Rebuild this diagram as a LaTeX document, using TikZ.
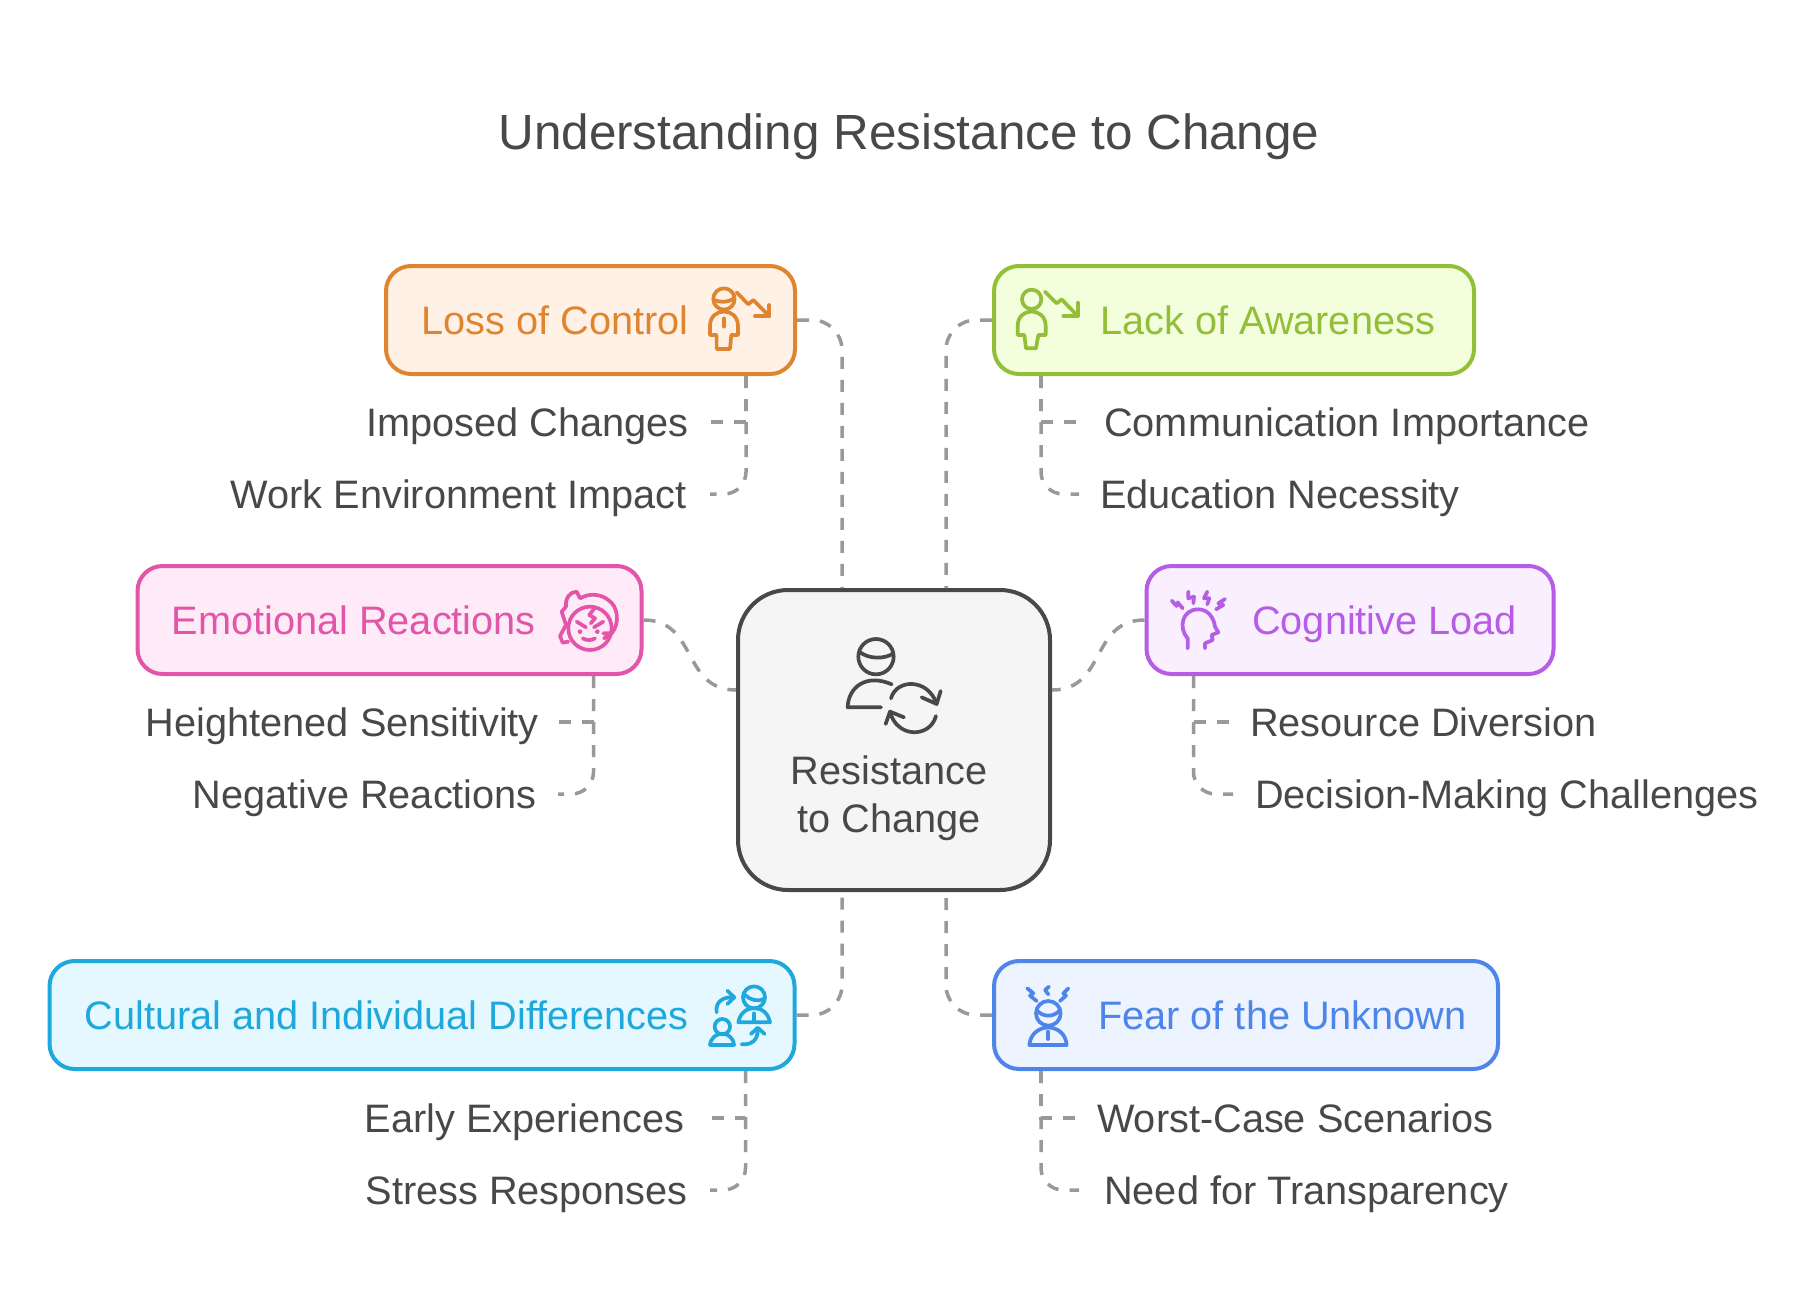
\documentclass[tikz,border=0pt]{standalone}
\usepackage{fontspec}
\setmainfont{Liberation Sans}
\usepackage{xcolor}
\usetikzlibrary{positioning}

\definecolor{ink}{HTML}{484848}
\definecolor{dashgray}{HTML}{999999}
\definecolor{orangeline}{HTML}{E0852F}
\definecolor{orangefill}{HTML}{FFF1E5}
\definecolor{greenline}{HTML}{92BF37}
\definecolor{greenfill}{HTML}{F3FFDC}
\definecolor{pinkline}{HTML}{E255A9}
\definecolor{pinkfill}{HTML}{FFEAF7}
\definecolor{purpleline}{HTML}{B75DE5}
\definecolor{purplefill}{HTML}{F9EFFF}
\definecolor{cyanline}{HTML}{1FA8DC}
\definecolor{cyanfill}{HTML}{E6F8FF}
\definecolor{blueline}{HTML}{4D85E8}
\definecolor{bluefill}{HTML}{EDF3FF}

\tikzset{
    causebox/.style 2 args={draw=#1,fill=#2,line width=4pt,rounded corners=25pt,minimum height=108pt,inner sep=0pt},
    causelabel/.style={text=#1,inner sep=0pt,font=\fontsize{39.7}{48}\selectfont,text height=36pt,text depth=8pt},
    sublabel/.style={text=ink,inner xsep=21pt,inner ysep=0pt,font=\fontsize{39.7}{48}\selectfont,text height=36pt,text depth=8pt},
    dashline/.style={draw=dashgray,line width=3.5pt,dash pattern=on 12pt off 11pt},
    iconline/.style={draw=#1,line width=3.7pt,line cap=round,line join=round},
    iconat/.style 2 args={shift={(#1,#2)},x=0.3333pt,y=-0.3333pt},
}

\begin{document}
\begin{tikzpicture}[x=1pt,y=-1pt]
    \useasboundingbox (0,0) rectangle (1820,1312);

    \node[text=ink,inner sep=0pt,font=\fontsize{49.4}{56}\selectfont,text height=40pt,text depth=10pt] (title) at (909,134) {Understanding Resistance to Change};

    \node[draw=ink,fill=black!4,line width=4pt,rounded corners=50pt,minimum width=312pt,minimum height=300pt,inner sep=0pt] (rtc) at (894,740) {};
    \node[text=ink,align=center,inner sep=0pt,font=\fontsize{39.7}{48}\selectfont] (rtctext) at (889,798) {Resistance\\to Change};

    \node[causebox={orangeline}{orangefill},minimum width=409pt] (loss) at (590.5,320) {};
    \node[causebox={greenline}{greenfill},minimum width=480pt] (lack) at (1234,320) {};
    \node[causebox={pinkline}{pinkfill},minimum width=504pt] (emo) at (389.5,620) {};
    \node[causebox={purpleline}{purplefill},minimum width=407pt] (cog) at (1350,620) {};
    \node[causebox={cyanline}{cyanfill},minimum width=745pt] (cult) at (422,1015) {};
    \node[causebox={blueline}{bluefill},minimum width=504pt] (fear) at (1246,1015) {};

    \node[causelabel=orangeline,anchor=east] (losstext) at (689,320) {Loss of Control};
    \node[causelabel=greenline,anchor=west] (lacktext) at (1100,320) {Lack of Awareness};
    \node[causelabel=pinkline,anchor=east] (emotext) at (536,620) {Emotional Reactions};
    \node[causelabel=purpleline,anchor=west] (cogtext) at (1252,620) {Cognitive Load};
    \node[causelabel=cyanline,anchor=east] (culttext) at (689,1015) {Cultural and Individual Differences};
    \node[causelabel=blueline,anchor=west] (feartext) at (1098,1015) {Fear of the Unknown};

    \node[sublabel,anchor=east] (loss1) at (710,422) {Imposed Changes};
    \node[sublabel,anchor=east,inner xsep=23pt] (loss2) at (710,494) {Work Environment Impact};
    \node[sublabel,anchor=west,inner xsep=25pt] (lack1) at (1079,422) {Communication Importance};
    \node[sublabel,anchor=west] (lack2) at (1079,494) {Education Necessity};
    \node[sublabel,anchor=east,inner xsep=19pt] (emo1) at (558,722) {Heightened Sensitivity};
    \node[sublabel,anchor=east] (emo2) at (558,794) {Negative Reactions};
    \node[sublabel,anchor=west,inner xsep=17pt] (cog1) at (1233,722) {Resource Diversion};
    \node[sublabel,anchor=west,inner xsep=22pt] (cog2) at (1233,794) {Decision-Making Challenges};
    \node[sublabel,anchor=east,inner xsep=25pt] (cult1) at (710,1118) {Early Experiences};
    \node[sublabel,anchor=east,inner xsep=22pt] (cult2) at (710,1190) {Stress Responses};
    \node[sublabel,anchor=west,inner xsep=18pt] (fear1) at (1079,1118) {Worst-Case Scenarios};
    \node[sublabel,anchor=west,inner xsep=25pt] (fear2) at (1079,1190) {Need for Transparency};

    \draw[dashline,rounded corners=30pt] (loss.east) -| ([xshift=-52pt]rtc.north);
    \draw[dashline,rounded corners=30pt] (lack.west) -| ([xshift=52pt]rtc.north);
    \draw[dashline] (emo.east) to[out=0,in=180,looseness=1.2] ([yshift=50pt]rtc.west);
    \draw[dashline] (cog.west) to[out=180,in=0,looseness=1.2] ([yshift=50pt]rtc.east);
    \draw[dashline,rounded corners=30pt] (cult.east) -| ([xshift=-52pt]rtc.south);
    \draw[dashline,rounded corners=30pt] (fear.west) -| ([xshift=52pt]rtc.south);

    \draw[dashline] ([xshift=-51pt]loss.south east) |- (loss1.east);
    \draw[dashline,rounded corners=22pt] ([xshift=-51pt]loss.south east) |- (loss2.east);
    \draw[dashline] ([xshift=49pt]lack.south west) |- (lack1.west);
    \draw[dashline,rounded corners=22pt] ([xshift=49pt]lack.south west) |- (lack2.west);
    \draw[dashline] ([xshift=-50pt]emo.south east) |- (emo1.east);
    \draw[dashline,rounded corners=22pt] ([xshift=-50pt]emo.south east) |- (emo2.east);
    \draw[dashline] ([xshift=49pt]cog.south west) |- (cog1.west);
    \draw[dashline,rounded corners=22pt] ([xshift=49pt]cog.south west) |- (cog2.west);
    \draw[dashline] ([xshift=-51pt]cult.south east) |- (cult1.east);
    \draw[dashline,rounded corners=22pt] ([xshift=-51pt]cult.south east) |- (cult2.east);
    \draw[dashline] ([xshift=49pt]fear.south west) |- (fear1.west);
    \draw[dashline,rounded corners=22pt] ([xshift=49pt]fear.south west) |- (fear2.west);

    \begin{scope}[iconat={720}{580},iconline=ink]
        \draw (468,230) circle [radius=53];
        \draw (418,215) .. controls (445,238) and (495,238) .. (520,220);
        \draw (515,313) .. controls (440,280) and (385,320) .. (383,382) -- (483,382);
        \draw (513,355) .. controls (530,295) and (625,295) .. (650,372);
        \draw (605,352) -- (650,372) -- (662,333);
        \draw (648,408) .. controls (630,475) and (530,475) .. (510,395);
        \draw (552,412) -- (510,395) -- (497,432);
    \end{scope}

    \begin{scope}[iconat={370}{250},iconline=orangeline]
        \draw (1062,147) circle [radius=32];
        \draw (1033,150) .. controls (1050,158) and (1075,158) .. (1092,145);
        \draw (1040,297) -- (1040,255) -- (1020,255) -- (1020,228) .. controls (1020,170) and (1104,170) .. (1104,228) -- (1104,255) -- (1084,255) -- (1080,297) -- cycle;
        \draw (1062,205) -- (1062,230);
        \draw (1100,127) -- (1135,163) -- (1150,150) -- (1198,198);
        \draw (1198,165) -- (1198,198) -- (1155,198);
    \end{scope}

    \begin{scope}[iconat={980}{260},iconline=greenline]
        \draw (155,118) circle [radius=29];
        \draw (138,265) -- (133,225) -- (113,225) -- (113,198) .. controls (113,140) and (197,140) .. (197,198) -- (197,225) -- (175,225) -- (168,265) -- cycle;
        \draw (195,95) -- (230,130) -- (245,118) -- (293,168);
        \draw (293,128) -- (293,168) -- (250,168);
    \end{scope}

    \begin{scope}[iconat={540}{570},iconline=pinkline]
        \draw (150,175) circle [radius=65];
        \draw (215,190) .. controls (240,160) and (235,110) .. (205,90) .. controls (180,70) and (145,70) .. (120,85) -- (110,65) .. controls (90,65) and (75,85) .. (78,110) -- (65,125) -- (78,165) -- (60,198) -- (68,218) -- (85,215);
        \draw (163,115) -- (148,135) -- (165,145) -- (152,160);
        \draw (110,155) -- (138,172);
        \draw (190,155) -- (162,172);
        \draw (128,205) .. controls (140,212) and (155,212) .. (165,205);
        \draw (190,190) -- (215,190) -- (192,205);
        \fill[pinkline] (120,185) circle [radius=7];
        \fill[pinkline] (172,185) circle [radius=7];
    \end{scope}

    \begin{scope}[iconat={1150}{570},iconline=purpleline]
        \draw (113,235) -- (113,205) .. controls (85,175) and (95,118) .. (145,118) .. controls (175,118) and (192,145) .. (195,170) -- (205,187) -- (185,195) -- (188,210) -- (165,220) -- (165,235);
        \draw (65,92) -- (80,108) -- (83,97) -- (98,115);
        \draw (115,65) -- (115,85) -- (132,80) -- (130,100);
        \draw (172,65) -- (162,85) -- (178,85) -- (172,103);
        \draw (225,87) -- (205,100) -- (220,105) -- (198,118);
    \end{scope}

    \begin{scope}[iconat={690}{965},iconline=cyanline]
        \draw (192,97) circle [radius=33];
        \draw (165,90) .. controls (180,105) and (205,112) .. (225,100);
        \draw (145,172) .. controls (155,115) and (230,115) .. (240,172) -- cycle;
        \draw (192,145) -- (192,170);
        \draw (97,185) circle [radius=23];
        \draw (60,240) .. controls (65,195) and (128,195) .. (132,240) -- cycle;
        \draw (80,142) .. controls (75,110) and (100,95) .. (130,97);
        \draw (112,77) -- (133,97) -- (112,117);
        \draw (155,238) .. controls (185,240) and (205,225) .. (203,192);
        \draw (183,207) -- (203,188) -- (224,207);
    \end{scope}

    \begin{scope}[iconat={1000}{965},iconline=blueline]
        \draw (145,145) circle [radius=37];
        \draw (110,135) .. controls (125,155) and (160,160) .. (180,135);
        \draw (88,240) .. controls (95,170) and (195,170) .. (200,240) -- cycle;
        \draw (144,200) -- (144,222);
        \draw (82,70) -- (100,85) -- (90,92) -- (110,108);
        \draw (147,65) -- (135,75) -- (145,88);
        \draw (205,70) -- (190,85) -- (198,92) -- (180,108);
    \end{scope}
\end{tikzpicture}
\end{document}
